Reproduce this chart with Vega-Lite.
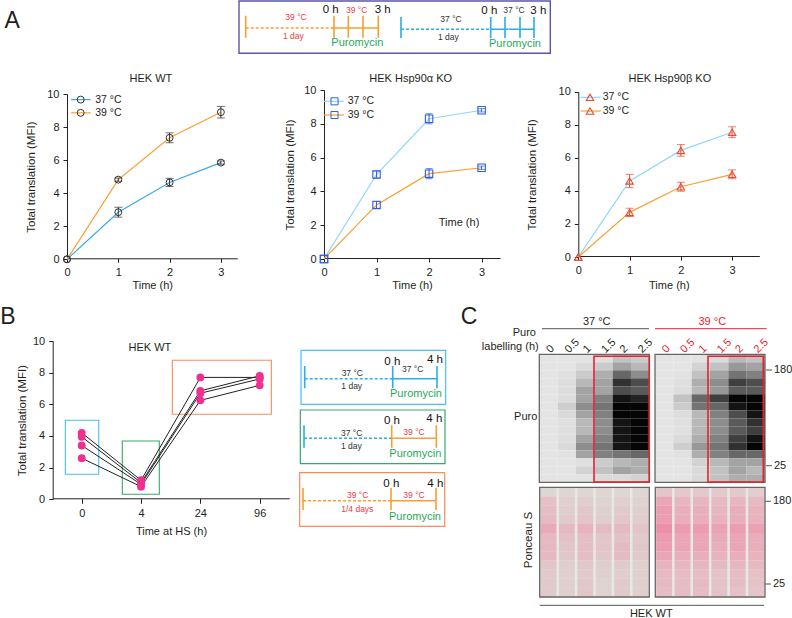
{
"$schema":"https://vega.github.io/schema/vega-lite/v6.json",
"width":792,"height":618,
"autosize":{"type":"fit","contains":"padding"},
"padding":0,
"background":"white",
"config":{"font":"Liberation Sans","view":{"stroke":null},"text":{"color":"#231f20"},
"axis":{"grid":false,"domainColor":"#222222","tickColor":"#222222","tickSize":4,"labelColor":"#231f20","titleColor":"#231f20","labelFontSize":11,"titleFontSize":11.5,"titleFontWeight":"normal","labelPadding":4,"labelOverlap":false,"labelFlush":false}},
"resolve":{"scale":{"x":"independent","y":"independent","color":"independent","size":"independent","strokeDash":"independent"},"axis":{"x":"independent","y":"independent"}},
"layer":[
{"data":{"values":[{"a":29.7,"a2":139.3,"b":177.3,"b2":287},{"a":145.3,"a2":255,"b":177.3,"b2":287}]},
 "mark":{"type":"rect","color":"#e6e8e3"},
 "encoding":{"x":{"field":"a","type":"quantitative","scale":{"domain":[0,262],"range":[510,772]},"axis":null},"x2":{"field":"a2"},"y":{"field":"b","type":"quantitative","scale":{"domain":[0,308],"range":[310,618]},"axis":null},"y2":{"field":"b2"}}},

{"data":{"values":[
{"band":1,"l0":0,"l05":0,"l1":0.02,"l15":0.05,"l2":0.25,"l25":0.2},
{"band":2,"l0":0,"l05":0,"l1":0.1,"l15":0.2,"l2":0.4,"l25":0.3},
{"band":3,"l0":0,"l05":0.05,"l1":0.2,"l15":0.35,"l2":0.65,"l25":0.5},
{"band":4,"l0":0,"l05":0.08,"l1":0.3,"l15":0.4,"l2":0.85,"l25":0.75},
{"band":5,"l0":0,"l05":0.08,"l1":0.4,"l15":0.4,"l2":0.75,"l25":0.7},
{"band":6,"l0":0,"l05":0.08,"l1":0.4,"l15":0.55,"l2":0.95,"l25":0.9},
{"band":7,"l0":0,"l05":0.18,"l1":0.5,"l15":0.6,"l2":1,"l25":1},
{"band":8,"l0":0,"l05":0.1,"l1":0.4,"l15":0.55,"l2":1,"l25":1},
{"band":9,"l0":0,"l05":0.06,"l1":0.3,"l15":0.5,"l2":0.95,"l25":1},
{"band":10,"l0":0,"l05":0.06,"l1":0.3,"l15":0.5,"l2":0.95,"l25":1},
{"band":11,"l0":0,"l05":0.08,"l1":0.4,"l15":0.55,"l2":0.95,"l25":1},
{"band":12,"l0":0,"l05":0.1,"l1":0.5,"l15":0.6,"l2":0.95,"l25":1},
{"band":13,"l0":0,"l05":0.03,"l1":0.4,"l15":0.55,"l2":0.6,"l25":0.65},
{"band":14,"l0":0,"l05":0,"l1":0.05,"l15":0.2,"l2":0.3,"l25":0.35},
{"band":15,"l0":0,"l05":0,"l1":0.15,"l15":0.25,"l2":0.4,"l25":0.35},
{"band":16,"l0":0,"l05":0,"l1":0.02,"l15":0.1,"l2":0.1,"l25":0.15}
]},
 "transform":[{"fold":["l0","l05","l1","l15","l2","l25"],"as":["lane","signal"]}],
 "mark":{"type":"rect"},
 "encoding":{
  "x":{"field":"lane","type":"ordinal","scale":{"domain":["l0","l05","l1","l15","l2","l25"],"range":[539.3,649.3],"paddingInner":0,"paddingOuter":0},
   "axis":{"orient":"top","offset":-351,"title":null,"domain":false,"ticks":false,"labelPadding":0,"labelAngle":-45,"labelAlign":"left","labelBaseline":"middle","labelExpr":"{'l0':'0','l05':'0.5','l1':'1','l15':'1.5','l2':'2','l25':'2.5'}[datum.value]"}},
  "y":{"field":"band","type":"ordinal","scale":{"range":[354.3,482.3],"paddingInner":0,"paddingOuter":0},"axis":null},
  "color":{"field":"signal","type":"quantitative","scale":{"type":"pow","exponent":1.35,"domain":[0,1],"range":["#e4e4e4","#050505"],"interpolate":"rgb"},"legend":null}}},

{"data":{"values":[
{"band":1,"l0":0,"l05":0,"l1":0.03,"l15":0.1,"l2":0.3,"l25":0.25},
{"band":2,"l0":0,"l05":0,"l1":0.15,"l15":0.25,"l2":0.45,"l25":0.4},
{"band":3,"l0":0,"l05":0.03,"l1":0.25,"l15":0.4,"l2":0.6,"l25":0.55},
{"band":4,"l0":0,"l05":0.06,"l1":0.35,"l15":0.5,"l2":0.8,"l25":0.75},
{"band":5,"l0":0,"l05":0.08,"l1":0.3,"l15":0.45,"l2":0.7,"l25":0.7},
{"band":6,"l0":0,"l05":0.25,"l1":0.65,"l15":0.8,"l2":1,"l25":1},
{"band":7,"l0":0,"l05":0.2,"l1":0.6,"l15":0.65,"l2":0.95,"l25":1},
{"band":8,"l0":0,"l05":0.08,"l1":0.3,"l15":0.55,"l2":0.75,"l25":0.95},
{"band":9,"l0":0,"l05":0.05,"l1":0.3,"l15":0.5,"l2":0.7,"l25":0.85},
{"band":10,"l0":0,"l05":0.05,"l1":0.3,"l15":0.5,"l2":0.7,"l25":0.8},
{"band":11,"l0":0,"l05":0.1,"l1":0.35,"l15":0.55,"l2":0.8,"l25":0.95},
{"band":12,"l0":0,"l05":0.18,"l1":0.45,"l15":0.6,"l2":0.85,"l25":1},
{"band":13,"l0":0,"l05":0.04,"l1":0.35,"l15":0.55,"l2":0.65,"l25":0.65},
{"band":14,"l0":0,"l05":0,"l1":0.15,"l15":0.3,"l2":0.4,"l25":0.4},
{"band":15,"l0":0,"l05":0,"l1":0.1,"l15":0.25,"l2":0.4,"l25":0.3},
{"band":16,"l0":0,"l05":0,"l1":0.1,"l15":0.25,"l2":0.35,"l25":0.35}
]},
 "transform":[{"fold":["l0","l05","l1","l15","l2","l25"],"as":["lane","signal"]}],
 "mark":{"type":"rect"},
 "encoding":{
  "x":{"field":"lane","type":"ordinal","scale":{"domain":["l0","l05","l1","l15","l2","l25"],"range":[655,765],"paddingInner":0,"paddingOuter":0},
   "axis":{"orient":"top","offset":-351,"title":null,"domain":false,"ticks":false,"labelPadding":0,"labelAngle":-45,"labelAlign":"left","labelBaseline":"middle","labelColor":"#e8212f","labelExpr":"{'l0':'0','l05':'0.5','l1':'1','l15':'1.5','l2':'2','l25':'2.5'}[datum.value]"}},
  "y":{"field":"band","type":"ordinal","scale":{"range":[354.3,482.3],"paddingInner":0,"paddingOuter":0},"axis":null},
  "color":{"field":"signal","type":"quantitative","scale":{"type":"pow","exponent":1.35,"domain":[0,1],"range":["#e4e4e4","#050505"],"interpolate":"rgb"},"legend":null}}},

{"data":{"values":[
{"band":1,"l0":0.1,"l05":0.1,"l1":0.1,"l15":0.1,"l2":0.1,"l25":0.1},
{"band":2,"l0":0.45,"l05":0.2,"l1":0.25,"l15":0.15,"l2":0.2,"l25":0.15},
{"band":3,"l0":0.5,"l05":0.25,"l1":0.35,"l15":0.2,"l2":0.3,"l25":0.2},
{"band":4,"l0":0.55,"l05":0.3,"l1":0.4,"l15":0.25,"l2":0.35,"l25":0.25},
{"band":5,"l0":0.85,"l05":0.6,"l1":0.7,"l15":0.55,"l2":0.6,"l25":0.4},
{"band":6,"l0":0.6,"l05":0.45,"l1":0.5,"l15":0.4,"l2":0.45,"l25":0.3},
{"band":7,"l0":0.6,"l05":0.4,"l1":0.5,"l15":0.4,"l2":0.55,"l25":0.35},
{"band":8,"l0":0.6,"l05":0.35,"l1":0.5,"l15":0.35,"l2":0.55,"l25":0.3},
{"band":9,"l0":0.4,"l05":0.25,"l1":0.35,"l15":0.25,"l2":0.3,"l25":0.2},
{"band":10,"l0":0.3,"l05":0.2,"l1":0.3,"l15":0.2,"l2":0.25,"l25":0.2},
{"band":11,"l0":0.3,"l05":0.2,"l1":0.35,"l15":0.15,"l2":0.3,"l25":0.2},
{"band":12,"l0":0.3,"l05":0.2,"l1":0.35,"l15":0.15,"l2":0.3,"l25":0.2}
]},
 "transform":[{"fold":["l0","l05","l1","l15","l2","l25"],"as":["lane","signal"]}],
 "mark":{"type":"rect"},
 "encoding":{
  "x":{"field":"lane","type":"ordinal","scale":{"domain":["l0","l05","l1","l15","l2","l25"],"range":[539.7,649.3],"paddingInner":0.14,"paddingOuter":0.05},"axis":null},
  "y":{"field":"band","type":"ordinal","scale":{"range":[487.3,597],"paddingInner":0,"paddingOuter":0},"axis":null},
  "color":{"field":"signal","type":"quantitative","scale":{"domain":[0,1],"range":["#dcdcd5","#eda0b4"],"interpolate":"rgb"},"legend":null}}},

{"data":{"values":[
{"band":1,"l0":0.3,"l05":0.25,"l1":0.25,"l15":0.25,"l2":0.25,"l25":0.2},
{"band":2,"l0":0.7,"l05":0.5,"l1":0.5,"l15":0.45,"l2":0.5,"l25":0.45},
{"band":3,"l0":0.85,"l05":0.6,"l1":0.6,"l15":0.5,"l2":0.6,"l25":0.55},
{"band":4,"l0":0.8,"l05":0.6,"l1":0.6,"l15":0.55,"l2":0.6,"l25":0.55},
{"band":5,"l0":1,"l05":0.85,"l1":0.85,"l15":0.75,"l2":0.8,"l25":0.75},
{"band":6,"l0":0.85,"l05":0.7,"l1":0.7,"l15":0.65,"l2":0.7,"l25":0.6},
{"band":7,"l0":0.8,"l05":0.7,"l1":0.7,"l15":0.6,"l2":0.7,"l25":0.6},
{"band":8,"l0":0.7,"l05":0.6,"l1":0.6,"l15":0.55,"l2":0.6,"l25":0.55},
{"band":9,"l0":0.55,"l05":0.5,"l1":0.5,"l15":0.45,"l2":0.5,"l25":0.45},
{"band":10,"l0":0.45,"l05":0.4,"l1":0.4,"l15":0.35,"l2":0.4,"l25":0.35},
{"band":11,"l0":0.45,"l05":0.4,"l1":0.45,"l15":0.35,"l2":0.4,"l25":0.35},
{"band":12,"l0":0.4,"l05":0.4,"l1":0.4,"l15":0.35,"l2":0.35,"l25":0.3}
]},
 "transform":[{"fold":["l0","l05","l1","l15","l2","l25"],"as":["lane","signal"]}],
 "mark":{"type":"rect"},
 "encoding":{
  "x":{"field":"lane","type":"ordinal","scale":{"domain":["l0","l05","l1","l15","l2","l25"],"range":[655.3,765],"paddingInner":0.14,"paddingOuter":0.05},"axis":null},
  "y":{"field":"band","type":"ordinal","scale":{"range":[487.3,597],"paddingInner":0,"paddingOuter":0},"axis":null},
  "color":{"field":"signal","type":"quantitative","scale":{"domain":[0,1],"range":["#e0dcd8","#ee8fa9"],"interpolate":"rgb"},"legend":null}}},

{"data":{"values":[
{"t":0,"v":0,"lo":0,"hi":0,"temp":"37 °C"},{"t":1,"v":2.85,"lo":2.55,"hi":3.15,"temp":"37 °C"},{"t":2,"v":4.65,"lo":4.4,"hi":4.9,"temp":"37 °C"},{"t":3,"v":5.85,"lo":5.75,"hi":5.95,"temp":"37 °C"},
{"t":0,"v":0,"lo":0,"hi":0,"temp":"39 °C"},{"t":1,"v":4.82,"lo":4.72,"hi":4.92,"temp":"39 °C"},{"t":2,"v":7.35,"lo":7.05,"hi":7.65,"temp":"39 °C"},{"t":3,"v":8.9,"lo":8.55,"hi":9.25,"temp":"39 °C"}]},
 "encoding":{
  "x":{"field":"t","type":"quantitative","scale":{"domain":[0,3.32],"range":[67,237.3]},"axis":{"orient":"bottom","offset":-358.7,"title":"Time (h)","values":[0,1,2,3],"format":"d","titleFontSize":11,"titlePadding":2}},
  "y":{"field":"v","type":"quantitative","scale":{"domain":[0,10],"range":[259.3,94]},"axis":{"orient":"left","offset":-67,"title":"Total translation (MFI)","values":[0,2,4,6,8,10],"format":"d","titlePadding":10}}},
 "layer":[
  {"mark":{"type":"line","strokeWidth":1.2},"encoding":{"color":{"field":"temp","type":"nominal","scale":{"domain":["37 °C","39 °C"],"range":["#3aa9ea","#f7a030"]},"legend":null}}},
  {"transform":[{"filter":"datum.t > 0"}],"mark":{"type":"errorbar","color":"#333333","ticks":{"size":8}},"encoding":{"y":{"field":"lo","type":"quantitative","scale":{"domain":[0,10],"range":[259.3,94]},"title":null},"y2":{"field":"hi"},"color":{"value":"#333333"}}},
  {"mark":{"type":"point","filled":false,"size":48,"color":"#333333","strokeWidth":1,"opacity":1}},
  {"data":{"values":[{"t":0.08,"t2":0.46,"v":9.66,"temp":"37 °C"},{"t":0.08,"t2":0.46,"v":8.86,"temp":"39 °C"}]},"mark":{"type":"rule","strokeWidth":1.2},"encoding":{"x2":{"field":"t2"},"color":{"field":"temp","type":"nominal","scale":{"domain":["37 °C","39 °C"],"range":["#3aa9ea","#f7a030"]},"legend":null}}},
  {"data":{"values":[{"t":0.267,"v":9.66},{"t":0.267,"v":8.86}]},"mark":{"type":"point","filled":false,"size":48,"color":"#333333","strokeWidth":1,"opacity":1}},
  {"data":{"values":[{"t":0.55,"v":9.66,"label":"37 °C"},{"t":0.55,"v":8.86,"label":"39 °C"}]},"mark":{"type":"text","align":"left","baseline":"middle","fontSize":10.5},"encoding":{"text":{"field":"label"}}},
  {"data":{"values":[{"t":1.636,"v":10.89,"label":"HEK WT"}]},"mark":{"type":"text","align":"center","baseline":"middle","fontSize":11},"encoding":{"text":{"field":"label"}}},
  {"data":{"values":[{"t":-1.07,"v":14.44,"label":"A"}]},"mark":{"type":"text","align":"center","baseline":"middle","fontSize":23},"encoding":{"text":{"field":"label"}}}
 ]},

{"data":{"values":[
{"t":0,"v":0,"lo":0,"hi":0,"temp":"37 °C"},{"t":1,"v":5.0,"lo":4.8,"hi":5.2,"temp":"37 °C"},{"t":2,"v":8.3,"lo":8.0,"hi":8.6,"temp":"37 °C"},{"t":3,"v":8.8,"lo":8.7,"hi":8.9,"temp":"37 °C"},
{"t":0,"v":0,"lo":0,"hi":0,"temp":"39 °C"},{"t":1,"v":3.2,"lo":3.0,"hi":3.4,"temp":"39 °C"},{"t":2,"v":5.05,"lo":4.75,"hi":5.35,"temp":"39 °C"},{"t":3,"v":5.4,"lo":5.3,"hi":5.5,"temp":"39 °C"}]},
 "encoding":{
  "x":{"field":"t","type":"quantitative","scale":{"domain":[0,3.35],"range":[324,500]},"axis":{"orient":"bottom","offset":-359,"title":"Time (h)","values":[0,1,2,3],"format":"d","titleFontSize":11,"titlePadding":2}},
  "y":{"field":"v","type":"quantitative","scale":{"domain":[0,10],"range":[259,90]},"axis":{"orient":"left","offset":-324,"title":"Total translation (MFI)","values":[0,2,4,6,8,10],"format":"d","titlePadding":8}}},
 "layer":[
  {"mark":{"type":"line","strokeWidth":1.2},"encoding":{"color":{"field":"temp","type":"nominal","scale":{"domain":["37 °C","39 °C"],"range":["#8fd8f6","#f7a030"]},"legend":null}}},
  {"transform":[{"filter":"datum.t > 0"}],"mark":{"type":"errorbar","ticks":{"size":7}},"encoding":{"y":{"field":"lo","type":"quantitative","scale":{"domain":[0,10],"range":[259,90]},"title":null},"y2":{"field":"hi"},"color":{"value":"#2f5fe0"}}},
  {"mark":{"type":"point","shape":"square","filled":false,"size":55,"color":"#2f5fe0","strokeWidth":1.1,"opacity":1}},
  {"data":{"values":[{"t":0,"t2":0.38,"v":9.33,"temp":"37 °C"},{"t":0,"t2":0.38,"v":8.52,"temp":"39 °C"}]},"mark":{"type":"rule","strokeWidth":1.2},"encoding":{"x2":{"field":"t2"},"color":{"field":"temp","type":"nominal","scale":{"domain":["37 °C","39 °C"],"range":["#8fd8f6","#f7a030"]},"legend":null}}},
  {"data":{"values":[{"t":0.2,"v":9.33},{"t":0.2,"v":8.52}]},"mark":{"type":"point","shape":"square","filled":false,"size":50,"color":"#2f5fe0","strokeWidth":1,"opacity":1}},
  {"data":{"values":[{"t":0.45,"v":9.33,"label":"37 °C"},{"t":0.45,"v":8.52,"label":"39 °C"}]},"mark":{"type":"text","align":"left","baseline":"middle","fontSize":10.5},"encoding":{"text":{"field":"label"}}},
  {"data":{"values":[{"t":1.65,"v":10.63,"label":"HEK Hsp90α KO"}]},"mark":{"type":"text","align":"center","baseline":"middle","fontSize":11},"encoding":{"text":{"field":"label"}}},
  {"data":{"values":[{"t":2.57,"v":2.13,"label":"Time (h)"}]},"mark":{"type":"text","align":"center","baseline":"middle","fontSize":11},"encoding":{"text":{"field":"label"}}}
 ]},

{"data":{"values":[
{"t":0,"v":0,"lo":0,"hi":0,"temp":"37 °C"},{"t":1,"v":4.6,"lo":4.2,"hi":5.0,"temp":"37 °C"},{"t":2,"v":6.45,"lo":6.1,"hi":6.8,"temp":"37 °C"},{"t":3,"v":7.55,"lo":7.22,"hi":7.88,"temp":"37 °C"},
{"t":0,"v":0,"lo":0,"hi":0,"temp":"39 °C"},{"t":1,"v":2.7,"lo":2.45,"hi":2.95,"temp":"39 °C"},{"t":2,"v":4.25,"lo":3.98,"hi":4.52,"temp":"39 °C"},{"t":3,"v":5.0,"lo":4.73,"hi":5.27,"temp":"39 °C"}]},
 "encoding":{
  "x":{"field":"t","type":"quantitative","scale":{"domain":[0,3.53],"range":[578.3,759.3]},"axis":{"orient":"bottom","offset":-361,"title":"Time (h)","values":[0,1,2,3],"format":"d","titleFontSize":11,"titlePadding":4}},
  "y":{"field":"v","type":"quantitative","scale":{"domain":[0,10],"range":[257,91.7]},"axis":{"orient":"left","offset":-578.3,"title":"Total translation (MFI)","values":[0,2,4,6,8,10],"format":"d","titlePadding":21}}},
 "layer":[
  {"mark":{"type":"line","strokeWidth":1.2},"encoding":{"color":{"field":"temp","type":"nominal","scale":{"domain":["37 °C","39 °C"],"range":["#8fd8f6","#f7a030"]},"legend":null}}},
  {"transform":[{"filter":"datum.t > 0"}],"mark":{"type":"errorbar","ticks":{"size":8}},"encoding":{"y":{"field":"lo","type":"quantitative","scale":{"domain":[0,10],"range":[257,91.7]},"title":null},"y2":{"field":"hi"},"color":{"value":"#f04a30"}}},
  {"mark":{"type":"point","shape":"triangle-up","filled":false,"size":55,"color":"#f04a30","strokeWidth":1.1,"opacity":1}},
  {"data":{"values":[{"t":0.046,"t2":0.436,"v":9.66,"temp":"37 °C"},{"t":0.046,"t2":0.436,"v":8.83,"temp":"39 °C"}]},"mark":{"type":"rule","strokeWidth":1.2},"encoding":{"x2":{"field":"t2"},"color":{"field":"temp","type":"nominal","scale":{"domain":["37 °C","39 °C"],"range":["#8fd8f6","#f7a030"]},"legend":null}}},
  {"data":{"values":[{"t":0.228,"v":9.66},{"t":0.228,"v":8.83}]},"mark":{"type":"point","shape":"triangle-up","filled":false,"size":55,"color":"#f04a30","strokeWidth":1.1,"opacity":1}},
  {"data":{"values":[{"t":0.475,"v":9.66,"label":"37 °C"},{"t":0.475,"v":8.83,"label":"39 °C"}]},"mark":{"type":"text","align":"left","baseline":"middle","fontSize":10.5},"encoding":{"text":{"field":"label"}}},
  {"data":{"values":[{"t":1.786,"v":10.75,"label":"HEK Hsp90β KO"}]},"mark":{"type":"text","align":"center","baseline":"middle","fontSize":11},"encoding":{"text":{"field":"label"}}}
 ]},

{"data":{"values":[
{"t":0,"v":4.2,"rep":"a"},{"t":1,"v":1.2,"rep":"a"},{"t":2,"v":7.7,"rep":"a"},{"t":3,"v":7.7,"rep":"a"},
{"t":0,"v":3.95,"rep":"b"},{"t":1,"v":1.05,"rep":"b"},{"t":2,"v":6.85,"rep":"b"},{"t":3,"v":7.8,"rep":"b"},
{"t":0,"v":3.4,"rep":"c"},{"t":1,"v":0.95,"rep":"c"},{"t":2,"v":6.7,"rep":"c"},{"t":3,"v":7.6,"rep":"c"},
{"t":0,"v":2.6,"rep":"d"},{"t":1,"v":0.8,"rep":"d"},{"t":2,"v":6.25,"rep":"d"},{"t":3,"v":7.2,"rep":"d"}]},
 "encoding":{
  "x":{"field":"t","type":"quantitative","scale":{"domain":[-0.489,3.499],"range":[52.7,289.3]},"axis":{"orient":"bottom","offset":-118.7,"title":"Time at HS (h)","values":[0,1,2,3],"tickSize":5,"labelExpr":"['0','4','24','96'][datum.value]","titleFontSize":11,"titlePadding":7}},
  "y":{"field":"v","type":"quantitative","scale":{"domain":[0,10],"range":[499.3,341]},"axis":{"orient":"left","offset":-52.7,"title":"Total translation (MFI)","values":[0,2,4,6,8,10],"format":"d","titlePadding":5}}},
 "layer":[
  {"data":{"values":[{"t":-0.276,"t2":0.287,"v":4.99,"v2":1.58,"box":"control"},{"t":0.684,"t2":1.308,"v":3.68,"v2":0.32,"box":"shift"},{"t":1.527,"t2":3.196,"v":8.78,"v2":5.37,"box":"adapted"}]},"mark":{"type":"rect","filled":false,"strokeWidth":1.1},"encoding":{"x2":{"field":"t2"},"y2":{"field":"v2"},"color":{"field":"box","type":"nominal","scale":{"domain":["control","shift","adapted"],"range":["#48c0f0","#3aa76a","#f98a5a"]},"legend":null}}},
  {"mark":{"type":"line","color":"#222222","strokeWidth":1},"encoding":{"detail":{"field":"rep"}}},
  {"mark":{"type":"point","filled":true,"size":62,"color":"#f0308f","opacity":1}},
  {"data":{"values":[{"t":1.15,"v":9.54,"label":"HEK WT"}]},"mark":{"type":"text","align":"center","baseline":"middle","fontSize":11},"encoding":{"text":{"field":"label"}}},
  {"data":{"values":[{"t":-1.242,"v":11.52,"label":"B"}]},"mark":{"type":"text","align":"center","baseline":"middle","fontSize":23},"encoding":{"text":{"field":"label"}}}
 ]},

{"resolve":{"scale":{"color":"independent"}},
 "encoding":{
  "x":{"field":"a","type":"quantitative","scale":{"domain":[0,311.3],"range":[239,550.3]},"axis":null},
  "y":{"field":"b","type":"quantitative","scale":{"domain":[0,52.3],"range":[1,53.3]},"axis":null}},
 "layer":[
  {"data":{"values":[{"a":0,"a2":311.3,"b":0,"b2":52.3}]},"mark":{"type":"rect","filled":false,"stroke":"#5a55a8","strokeWidth":1.4},"encoding":{"x2":{"field":"a2"},"y2":{"field":"b2"}}},
  {"data":{"values":[
   {"a":6.7,"a2":95,"b":27,"b2":27,"stage":"39","phase":"pre"},{"a":95,"a2":139.3,"b":27,"b2":27,"stage":"39","phase":"label"},
   {"a":6.7,"a2":6.7,"b":14.7,"b2":36.7,"stage":"39","phase":"label"},{"a":95,"a2":95,"b":14.7,"b2":36.7,"stage":"39","phase":"label"},{"a":109.3,"a2":109.3,"b":14.7,"b2":36.7,"stage":"39","phase":"label"},{"a":124,"a2":124,"b":14.7,"b2":36.7,"stage":"39","phase":"label"},{"a":139.3,"a2":139.3,"b":14.7,"b2":36.7,"stage":"39","phase":"label"},
   {"a":162,"a2":251.7,"b":28.3,"b2":28.3,"stage":"37","phase":"pre"},{"a":251.7,"a2":295,"b":28.3,"b2":28.3,"stage":"37","phase":"label"},
   {"a":162,"a2":162,"b":16,"b2":37,"stage":"37","phase":"label"},{"a":251.7,"a2":251.7,"b":16,"b2":37,"stage":"37","phase":"label"},{"a":266,"a2":266,"b":16,"b2":37,"stage":"37","phase":"label"},{"a":281,"a2":281,"b":16,"b2":37,"stage":"37","phase":"label"},{"a":295,"a2":295,"b":16,"b2":37,"stage":"37","phase":"label"}]},
   "mark":{"type":"rule","strokeWidth":1.6},"encoding":{"x2":{"field":"a2"},"y2":{"field":"b2"},"color":{"field":"stage","type":"nominal","scale":{"domain":["39","37"],"range":["#f7a030","#29aee8"]},"legend":null},"strokeDash":{"field":"phase","type":"nominal","scale":{"domain":["pre","label"],"range":[[3,2],[1,0]]},"legend":null}}},
  {"data":{"values":[
   {"a":57,"b":16,"label":"39 °C","kind":"hot"},{"a":54.3,"b":35,"label":"1 day","kind":"hot"},{"a":91.7,"b":9,"label":"0 h","kind":"time"},{"a":117.7,"b":9,"label":"39 °C","kind":"hot"},{"a":143.7,"b":9,"label":"3 h","kind":"time"},{"a":118.3,"b":41.7,"label":"Puromycin","kind":"puro"},
   {"a":212,"b":17.7,"label":"37 °C","kind":"ctl"},{"a":209.3,"b":35.7,"label":"1 day","kind":"ctl"},{"a":250.3,"b":9.7,"label":"0 h","kind":"time"},{"a":275,"b":9,"label":"37 °C","kind":"ctl"},{"a":299.3,"b":9.7,"label":"3 h","kind":"time"},{"a":276,"b":43.3,"label":"Puromycin","kind":"puro"}]},
   "mark":{"type":"text","align":"center","baseline":"middle"},"encoding":{"text":{"field":"label"},"color":{"field":"kind","type":"nominal","scale":{"domain":["hot","ctl","time","puro"],"range":["#ee3a45","#333333","#111111","#1fa85a"]},"legend":null},"size":{"field":"kind","type":"ordinal","scale":{"type":"ordinal","domain":["hot","ctl","time","puro"],"range":[8.5,8.5,11.5,11]},"legend":null}}}
 ]},

{"resolve":{"scale":{"color":"independent"}},
 "encoding":{
  "x":{"field":"a","type":"quantitative","scale":{"domain":[0,147],"range":[299,446]},"axis":null},
  "y":{"field":"b","type":"quantitative","scale":{"domain":[0,177],"range":[350,527]},"axis":null}},
 "layer":[
  {"data":{"values":[{"a":2,"a2":146.7,"b":0.3,"b2":54.3,"box":"control"},{"a":1.3,"a2":146,"b":60,"b2":113.7,"box":"shift"},{"a":0.7,"a2":145.7,"b":122.7,"b2":176.3,"box":"adapted"}]},"mark":{"type":"rect","filled":false,"strokeWidth":1.2},"encoding":{"x2":{"field":"a2"},"y2":{"field":"b2"},"color":{"field":"box","type":"nominal","scale":{"domain":["control","shift","adapted"],"range":["#48c0f0","#3aa76a","#f98a5a"]},"legend":null}}},
  {"data":{"values":[
   {"a":5.7,"a2":93.7,"b":28.7,"b2":28.7,"stage":"37","phase":"pre"},{"a":93.7,"a2":138,"b":28.7,"b2":28.7,"stage":"37","phase":"label"},{"a":5.7,"a2":5.7,"b":16,"b2":38.3,"stage":"37","phase":"label"},{"a":93.7,"a2":93.7,"b":16,"b2":38.3,"stage":"37","phase":"label"},{"a":138,"a2":138,"b":16,"b2":38.3,"stage":"37","phase":"label"},
   {"a":5,"a2":92.7,"b":88.3,"b2":88.3,"stage":"37","phase":"pre"},{"a":92.7,"a2":137.3,"b":88.3,"b2":88.3,"stage":"39","phase":"label"},{"a":5,"a2":5,"b":75.3,"b2":97.7,"stage":"37","phase":"label"},{"a":92.7,"a2":92.7,"b":75.3,"b2":97.7,"stage":"39","phase":"label"},{"a":137.3,"a2":137.3,"b":75.3,"b2":97.7,"stage":"39","phase":"label"},
   {"a":4,"a2":92,"b":150.7,"b2":150.7,"stage":"39","phase":"pre"},{"a":92,"a2":137,"b":150.7,"b2":150.7,"stage":"39","phase":"label"},{"a":4,"a2":4,"b":138,"b2":160,"stage":"39","phase":"label"},{"a":92,"a2":92,"b":138,"b2":160,"stage":"39","phase":"label"},{"a":137,"a2":137,"b":138,"b2":160,"stage":"39","phase":"label"}]},
   "mark":{"type":"rule","strokeWidth":1.6},"encoding":{"x2":{"field":"a2"},"y2":{"field":"b2"},"color":{"field":"stage","type":"nominal","scale":{"domain":["39","37"],"range":["#f7a030","#29aee8"]},"legend":null},"strokeDash":{"field":"phase","type":"nominal","scale":{"domain":["pre","label"],"range":[[3,2],[1,0]]},"legend":null}}},
  {"data":{"values":[
   {"a":53.3,"b":23,"label":"37 °C","kind":"ctl"},{"a":52.7,"b":36,"label":"1 day","kind":"ctl"},{"a":93.3,"b":11.7,"label":"0 h","kind":"time"},{"a":113.7,"b":19,"label":"37 °C","kind":"ctl"},{"a":136,"b":10,"label":"4 h","kind":"time"},{"a":117,"b":44.3,"label":"Puromycin","kind":"puro"},
   {"a":52.7,"b":82.7,"label":"37 °C","kind":"ctl"},{"a":52.3,"b":96,"label":"1 day","kind":"ctl"},{"a":93,"b":71.3,"label":"0 h","kind":"time"},{"a":115,"b":82,"label":"39 °C","kind":"hot"},{"a":135.3,"b":69.3,"label":"4 h","kind":"time"},{"a":116.3,"b":104,"label":"Puromycin","kind":"puro"},
   {"a":58.7,"b":144.7,"label":"39 °C","kind":"hot"},{"a":58.3,"b":158.7,"label":"1/4 days","kind":"hot"},{"a":92.3,"b":134,"label":"0 h","kind":"time"},{"a":115,"b":144.7,"label":"39 °C","kind":"hot"},{"a":136.3,"b":134.3,"label":"4 h","kind":"time"},{"a":116,"b":166.7,"label":"Puromycin","kind":"puro"}]},
   "mark":{"type":"text","align":"center","baseline":"middle"},"encoding":{"text":{"field":"label"},"color":{"field":"kind","type":"nominal","scale":{"domain":["hot","ctl","time","puro"],"range":["#ee3a45","#333333","#111111","#1fa85a"]},"legend":null},"size":{"field":"kind","type":"ordinal","scale":{"type":"ordinal","domain":["hot","ctl","time","puro"],"range":[8.5,8.5,11.5,11]},"legend":null}}}
 ]},

{"resolve":{"scale":{"color":"independent"}},
 "encoding":{
  "x":{"field":"a","type":"quantitative","scale":{"domain":[0,262],"range":[510,772]},"axis":null},
  "y":{"field":"b","type":"quantitative","scale":{"domain":[0,308],"range":[310,618]},"axis":null}},
 "layer":[
  {"data":{"values":[{"a":29.3,"a2":139.3,"b":44.3,"b2":172.3},{"a":145,"a2":255,"b":44.3,"b2":172.3},{"a":29.7,"a2":139.3,"b":177.3,"b2":287},{"a":145.3,"a2":255,"b":177.3,"b2":287}]},"mark":{"type":"rect","filled":false,"stroke":"#666666","strokeWidth":1.3},"encoding":{"x2":{"field":"a2"},"y2":{"field":"b2"}}},
  {"data":{"values":[{"a":84,"a2":139.3,"b":46.3,"b2":172},{"a":198,"a2":253.3,"b":46.3,"b2":172}]},"mark":{"type":"rect","filled":false,"stroke":"#e8212f","strokeWidth":1.6},"encoding":{"x2":{"field":"a2"},"y2":{"field":"b2"}}},
  {"data":{"values":[{"a":32,"a2":139,"b":18.7,"kind":"ctl"},{"a":145,"a2":256.7,"b":18.7,"kind":"hot"},{"a":29.7,"a2":254,"b":295.3,"kind":"ctl"},{"a":256,"a2":262,"b":60,"kind":"ctl"},{"a":256,"a2":262,"b":155.7,"kind":"ctl"},{"a":255.3,"a2":261,"b":191.3,"kind":"ctl"},{"a":255.3,"a2":261,"b":274,"kind":"ctl"}]},"mark":{"type":"rule","strokeWidth":1},"encoding":{"x2":{"field":"a2"},"color":{"field":"kind","type":"nominal","scale":{"domain":["ctl","hot"],"range":["#555555","#e8212f"]},"legend":null}}},
  {"data":{"values":[{"a":86.7,"b":11.7,"label":"37 °C","kind":"ctl"},{"a":202.3,"b":11.7,"label":"39 °C","kind":"hot"},{"a":141.3,"b":304,"label":"HEK WT","kind":"ctl"}]},"mark":{"type":"text","align":"center","baseline":"middle","fontSize":11},"encoding":{"text":{"field":"label"},"color":{"field":"kind","type":"nominal","scale":{"domain":["ctl","hot"],"range":["#231f20","#e8212f"]},"legend":null}}},
  {"data":{"values":[{"a":26,"b":22.7,"label":"Puro"},{"a":28.7,"b":36.7,"label":"labelling (h)"},{"a":27.3,"b":106.7,"label":"Puro"}]},"mark":{"type":"text","align":"right","baseline":"middle","fontSize":11},"encoding":{"text":{"field":"label"}}},
  {"data":{"values":[{"a":264,"b":60,"label":"180"},{"a":264,"b":155.7,"label":"25"},{"a":263,"b":191.3,"label":"180"},{"a":263,"b":274,"label":"25"}]},"mark":{"type":"text","align":"left","baseline":"middle","fontSize":11},"encoding":{"text":{"field":"label"}}},
  {"data":{"values":[{"a":19,"b":230,"label":"Ponceau S"}]},"mark":{"type":"text","align":"center","baseline":"middle","fontSize":11.5,"angle":270},"encoding":{"text":{"field":"label"}}},
  {"data":{"values":[{"a":-41,"b":6.7,"label":"C"}]},"mark":{"type":"text","align":"center","baseline":"middle","fontSize":23},"encoding":{"text":{"field":"label"}}}
 ]}
]
}
